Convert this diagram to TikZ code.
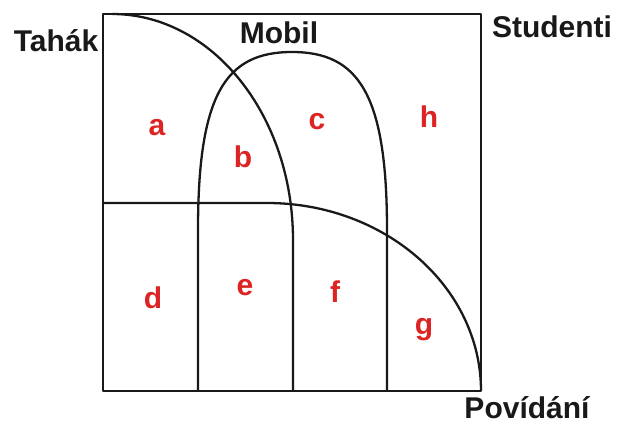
\documentclass[tikz,border=0pt]{standalone}
\usepackage{fontspec}
\setmainfont{Liberation Sans}
\usepackage{tikz}
\definecolor{regred}{RGB}{221,36,36}

\begin{document}
\begin{tikzpicture}[x=1pt,y=-1pt]
\tikzstyle{set}=[line width=2.3pt,draw=black!90,line join=round]
\tikzstyle{setname}=[inner sep=0pt,anchor=base,font=\fontsize{30}{30}\selectfont\bfseries,text=black!90]
\tikzstyle{region}=[inner sep=0pt,anchor=base,font=\fontsize{30}{30}\selectfont\bfseries,text=regred]
\useasboundingbox (0,0) rectangle (622,423);

% universe and the three sets
\draw[set] (103,14) rectangle (481,391);
\draw[set] (112,14) .. controls (212,14) and (293,115) .. (293,240) -- (293,391);
\draw[set] (198,391) -- (198,230) .. controls (198,95) and (225,52) .. (292,52)
  .. controls (359,52) and (387,95) .. (387,230) -- (387,391);
\draw[set] (103,203) -- (267,203) .. controls (385,203) and (481,287) .. (481,391);

% set names
\node[setname] (tahak) at (56,52) {Tahák};
\node[setname] (mobil) at (279,43) {Mobil};
\node[setname] (studenti) at (552,37) {Studenti};
\node[setname] (povidani) at (527,418) {Povídání};

% regions
\node[region] (ra) at (157,135) {a};
\node[region] (rb) at (243,167) {b};
\node[region] (rc) at (317,129) {c};
\node[region] (rh) at (429,127) {h};
\node[region] (rd) at (153,308) {d};
\node[region] (re) at (245,295) {e};
\node[region] (rf) at (335,302) {f};
\node[region] (rg) at (424,334) {g};
\end{tikzpicture}
\end{document}
